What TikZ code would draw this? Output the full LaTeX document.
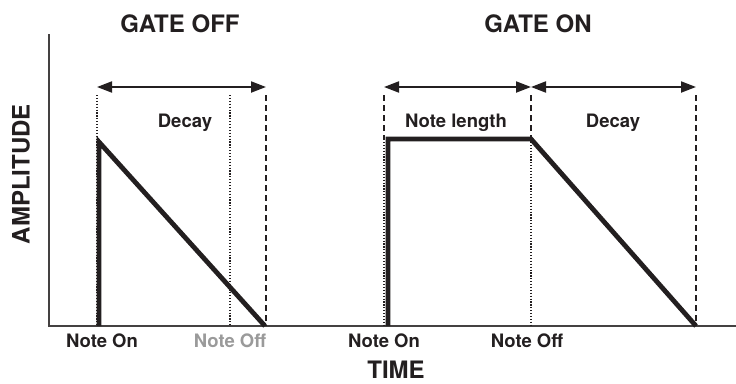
\documentclass[tikz,border=0pt]{standalone}
\usepackage{fontspec}
\setmainfont{TeX Gyre Heros}
\usetikzlibrary{positioning,arrows.meta}
\definecolor{ink}{HTML}{231F20}
\definecolor{offgray}{HTML}{9A9A9A}

\begin{document}
\begin{tikzpicture}[x=1pt,y=-1pt,
  axis/.style={line width=2.5pt,draw=ink!85},
  env/.style={line width=4.8pt,draw=ink,line join=miter},
  dotline/.style={line width=1.4pt,draw=ink,dash pattern=on 1.2pt off 1.7pt},
  dashline/.style={line width=1.5pt,draw=ink,dash pattern=on 6pt off 4pt},
  dim/.style={line width=2pt,draw=ink,{Triangle[length=15pt,width=11pt]}-{Triangle[length=15pt,width=11pt]}},
  title/.style={font=\fontsize{24}{28}\selectfont\bfseries,text=ink,inner sep=0pt,anchor=base},
  lbl/.style={font=\fontsize{18.5}{22}\selectfont\bfseries,text=ink,inner sep=0pt,anchor=base}]
\useasboundingbox (0,0) rectangle (736,383);

% axes
\coordinate (origin) at (49,326);
\coordinate (ytop) at (49,34);
\coordinate (xend) at (736,326);
\draw[axis] (ytop) -- (origin) -- (xend);
\node[title,anchor=center,rotate=90] (amp) at (21,174) {AMPLITUDE};
\node[title] (time) at (396,378) {TIME};

% gate off
\node[title] (offtitle) at (180,32) {GATE OFF};
\coordinate (offon) at (97,95);   \coordinate (offonb) at (97,326);
\coordinate (offoff) at (230,95); \coordinate (offoffb) at (230,326);
\coordinate (offend) at (266,95); \coordinate (offendb) at (266,326);
\draw[dotline] (offon) -- (offonb);
\draw[dotline] (offoff) -- (offoffb);
\draw[dashline] (offend) -- (offendb);
\draw[dim] ([yshift=8pt]offon) -- ([yshift=8pt]offend);
\node[lbl] (offdecay) at (185,127) {Decay};
\coordinate (offstart) at (99,326);
\coordinate (offpeak) at (99,142);
\coordinate (offzero) at (265,326);
\draw[env] (offstart) -- (offpeak) -- (offzero);
\node[lbl] (offonlbl) at (102,347) {Note On};
\node[lbl,text=offgray] (offofflbl) at (230,347) {Note Off};

% gate on
\node[title] (ontitle) at (538,32) {GATE ON};
\foreach \n/\x in {onon/384,onoff/531} {
  \coordinate (\n) at (\x,95);
  \coordinate (\n m) at (\x,139);
  \coordinate (\n b) at (\x,326);
  \draw[dashline] (\n) -- (\n m);
  \draw[dotline] (\n m) -- (\n b);
}
\coordinate (onend) at (696,95); \coordinate (onendb) at (696,326);
\draw[dashline] (onend) -- (onendb);
\draw[dim] ([yshift=8pt]onon) -- ([yshift=8pt]onoff);
\draw[dim] ([yshift=8pt]onoff) -- ([yshift=8pt]onend);
\node[lbl] (notelen) at (456,127) {Note length};
\node[lbl] (ondecay) at (613,127) {Decay};
\coordinate (onstart) at (388,326);
\coordinate (onrise) at (388,139);
\coordinate (onhold) at (531,139);
\coordinate (onzero) at (696,326);
\draw[env] (onstart) -- (onrise) -- (onhold) -- (onzero);
\node[lbl] (ononlbl) at (384,347) {Note On};
\node[lbl] (onofflbl) at (527,347) {Note Off};
\end{tikzpicture}
\end{document}
